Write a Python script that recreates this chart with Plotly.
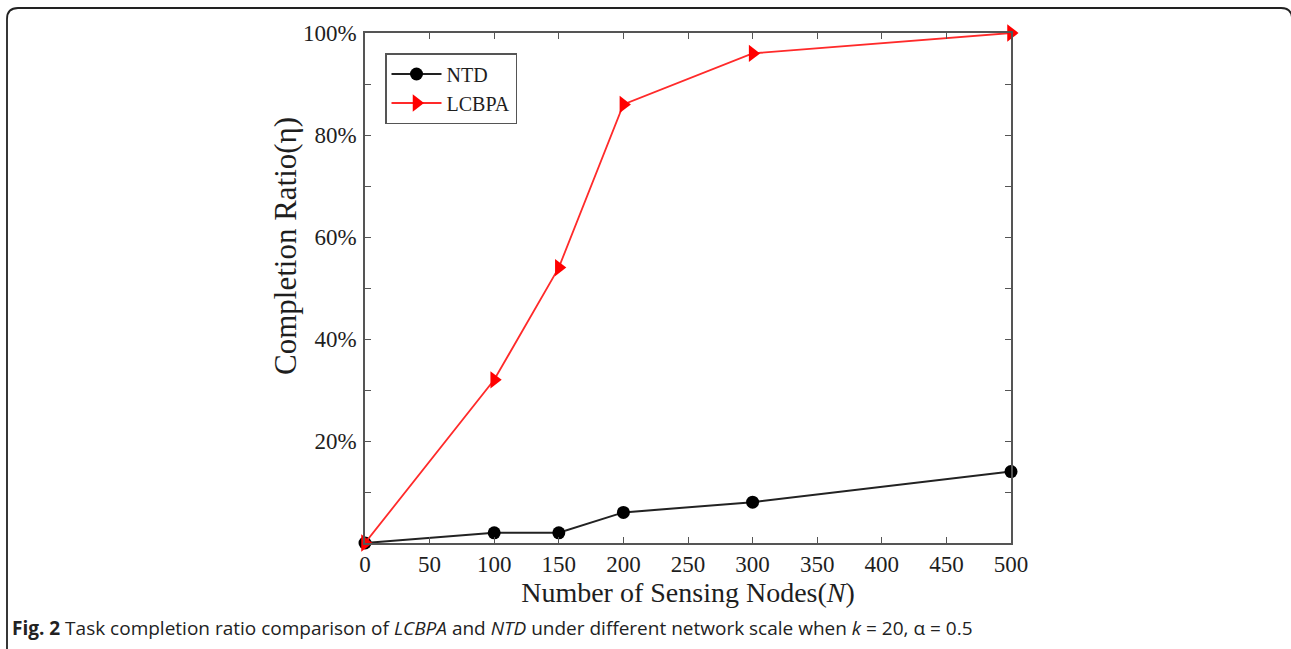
import plotly.graph_objects as go

# Network scale (number of sensing nodes) and completion ratios in percent
nodes = [0, 100, 150, 200, 300, 500]
ntd_ratio = [0, 2, 2, 6, 8, 14]
lcbpa_ratio = [0, 32, 54, 86, 96, 100]

y_tick_vals = [0, 10, 20, 30, 40, 50, 60, 70, 80, 90, 100]
y_tick_text = ["", "", "20%", "", "40%", "", "60%", "", "80%", "", "100%"]
x_tick_vals = [0, 50, 100, 150, 200, 250, 300, 350, 400, 450, 500]

W, H = 1291, 649
L, R, T, B = 365, 1011, 33, 543

def px(x):
    return (x - L) / (R - L)

def py(y):
    return (B - y) / (B - T)

serif = "Liberation Serif, Times New Roman, serif"
axis_color = "#555555"
ink = "#1e1e1e"

fig = go.Figure()
fig.add_trace(go.Scatter(
    x=nodes, y=ntd_ratio, name="NTD", mode="lines+markers",
    line=dict(color="#222222", width=2),
    marker=dict(symbol="circle", size=13, color="black"),
    cliponaxis=False,
))
fig.add_trace(go.Scatter(
    x=nodes, y=lcbpa_ratio, name="LCBPA", mode="lines+markers",
    line=dict(color="#ff2a2a", width=1.8),
    marker=dict(symbol="triangle-right", size=15, color="#ff0000"),
    cliponaxis=False,
))

axis_common = dict(
    showgrid=False, zeroline=False, showline=True, linecolor=axis_color,
    linewidth=1.5, mirror="ticks", ticks="inside", ticklen=6,
    tickcolor=axis_color, tickwidth=1.2,
    tickfont=dict(family=serif, size=23, color=ink),
)

fig.update_xaxes(
    range=[0, 500], tickmode="array", tickvals=x_tick_vals,
    title=dict(text="Number of Sensing Nodes(<i>N</i>)",
               font=dict(family=serif, size=28, color=ink), standoff=1),
    **axis_common,
)
fig.update_yaxes(
    range=[0, 100], tickmode="array", tickvals=y_tick_vals, ticktext=y_tick_text,
    ticklabelstandoff=2,
    **axis_common,
)

# Rounded frame around the figure panel
fx0, fy0, fx1, fy1, rad = 7, 8, 1292, 650, 11
frame = (
    f"M {px(fx0)},{py(fy1)} L {px(fx0)},{py(fy0 + rad)} "
    f"Q {px(fx0)},{py(fy0)} {px(fx0 + rad)},{py(fy0)} "
    f"L {px(fx1 - rad)},{py(fy0)} Q {px(fx1)},{py(fy0)} {px(fx1)},{py(fy0 + rad)} "
    f"L {px(fx1)},{py(fy1)}"
)
fig.add_shape(type="path", path=frame, xref="paper", yref="paper",
              line=dict(color="#222222", width=1.8))

fig.add_annotation(
    text="Completion Ratio(η)", textangle=-90, xref="paper", yref="paper",
    x=px(286), y=py(246), xanchor="center", yanchor="middle", showarrow=False,
    font=dict(family=serif, size=31, color=ink),
)
fig.add_annotation(
    text=("<b>Fig. 2</b> Task completion ratio comparison of <i>LCBPA</i> and "
          "<i>NTD</i> under different network scale when <i>k</i> = 20, α = 0.5"),
    xref="paper", yref="paper", x=px(10), y=py(628),
    xanchor="left", yanchor="middle", showarrow=False,
    font=dict(family="Open Sans, sans-serif", size=19, color="#222222"),
)

fig.update_layout(
    width=W, height=H,
    margin=dict(l=L, r=W - R, t=T, b=H - B, pad=0),
    paper_bgcolor="white", plot_bgcolor="white",
    showlegend=True,
    legend=dict(
        x=px(385), y=py(53), xanchor="left", yanchor="top",
        bordercolor=axis_color, borderwidth=1.5, bgcolor="white",
        font=dict(family=serif, size=20, color=ink),
        itemwidth=50, tracegroupgap=0,
    ),
)

fig.write_html("out.html")
